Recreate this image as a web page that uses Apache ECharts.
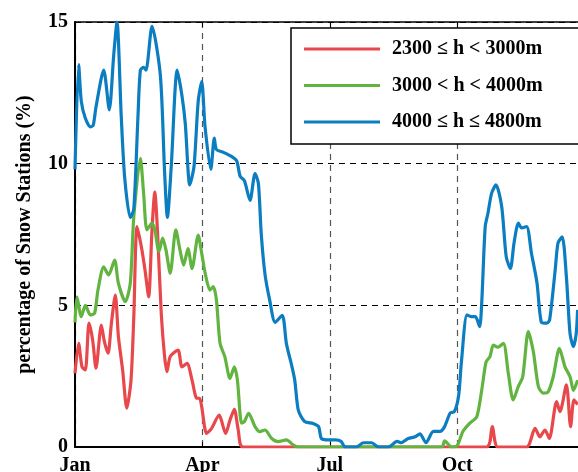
<!DOCTYPE html>
<html>
<head>
<meta charset="utf-8">
<title>Snow stations</title>
<script src="https://cdn.jsdelivr.net/npm/echarts@6/dist/echarts.min.js"></script>
<style>
  html, body { margin: 0; padding: 0; background: #fff; }
  #chart { width: 578px; height: 472px; }
</style>
</head>
<body>
<div id="chart"></div>
<script>
// day of year -> percentage of snow stations
const seriesNames = ['2300 ≤ h < 3000m', '3000 < h < 4000m', '4000 ≤ h ≤ 4800m'];
const monthTicks = { 0: 'Jan', 91: 'Apr', 182: 'Jul', 273: 'Oct' };
const yTicks = [0, 5, 10, 15];

const low = [[0,2.6],[2.6,3.66],[5,2.83],[7.4,2.72],[10,4.37],[12.6,3.78],[15,2.78],[18.8,4.3],[21,3.72],[23.6,3.31],
  [26,4.37],[28.8,5.36],[31,3.9],[34,2.72],[37,1.37],[40,2.36],[42,4.6],[44.3,7.78],[47.4,7.07],[50,6.25],[52.6,5.3],
  [55,7.66],[57,9.0],[59,7.54],[61.6,4.72],[64,3.19],[65.7,2.66],[68,3.19],[73.6,3.42],[76.4,2.83],[80,2.95],[83.6,2.36],
  [87,1.72],[89,1.72],[90.5,1.42],[94,0.48],[97.6,0.66],[103,1.13],[104.5,0.95],[107.6,0.48],[110.7,0.95],[113.8,1.33],
  [116.6,0.6],[120,0],[294,0],[298,0.72],[302,0],[322.6,0],[328.6,0.66],[332,0.36],[335.7,0.6],[338.8,0.3],[344,1.6],
  [346.4,1.25],[351,2.19],[354,0.72],[356.4,1.66],[359,1.5]];

const mid = [[0,4.4],[1.4,5.3],[4.5,4.6],[7.4,5.0],[11,4.66],[14,4.72],[16.4,5.54],[20.5,6.36],[24,6.07],[28.3,6.6],
  [31,5.78],[36,5.13],[39.5,5.78],[42,8.13],[46.7,10.19],[49,8.96],[51.4,7.66],[55,7.9],[57,7.66],[60,6.9],[62.6,7.37],
  [65,6.95],[68,6.13],[72,7.66],[75,6.95],[77.6,6.42],[80.7,7.0],[83.6,6.3],[88,7.48],[90.5,6.84],[93,6.13],[96.4,5.54],
  [98.8,5.66],[101,5.19],[103.6,3.66],[107,3.19],[110.7,2.42],[113.8,2.83],[116,2.36],[119,0.84],[121,0.9],[124,1.19],
  [128.6,0.72],[132,0.54],[135.7,0.6],[140.5,0.3],[145,0.19],[151,0.25],[156,0.07],[159,0],[262,0],[264,0.22],[269,0],
  [273,0.05],[277,0.54],[282,0.84],[287,1.07],[290.5,2.0],[293.6,3.0],[296.4,3.19],[298.8,3.6],[302,3.52],[306,3.66],
  [309.5,2.6],[313,1.66],[316.6,2.13],[319.8,2.48],[323.8,4.07],[327.4,3.36],[331,2.13],[334.5,1.9],[338,1.95],
  [341.6,2.48],[346,3.48],[350,2.83],[353.6,2.48],[356,2.0],[359,2.36]];

const high = [[0,9.8],[2.6,13.5],[4.5,12.2],[7.4,11.6],[11,11.3],[13,11.35],[15,12.0],[20.5,13.3],[24.5,11.9],[27.6,13.8],
  [30,15.0],[33,11.7],[35.5,9.5],[39.5,8.1],[42,8.4],[45,11.7],[46.7,13.3],[49,13.4],[50.7,13.3],[55,14.85],[61,13.1],
  [64,9.7],[66,8.1],[68.8,9.95],[73,13.3],[76.4,12.4],[78.8,11.4],[82,9.25],[85,9.9],[88,12.2],[90.5,12.9],[92.9,11.3],
  [97,9.8],[99.5,10.9],[101,10.5],[106,10.4],[112,10.25],[115.5,10.1],[118,9.55],[121,9.4],[125,8.7],[128.6,9.65],
  [131,9.3],[133,7.55],[135.7,6.1],[139,5.2],[143,4.4],[148,4.65],[151,3.65],[155,2.83],[157,2.35],[159.5,1.3],[164,0.9],
  [170,0.83],[174,0.72],[176,0.3],[181,0.25],[186,0.25],[190,0.2],[193,0],[201,0],[206,0.15],[212,0.15],[216.7,0],
  [224,0],[230,0.2],[233,0.15],[238,0.3],[243,0.36],[246.4,0.46],[250.7,0.15],[256,0.55],[260.7,0.55],[264,0.72],
  [268,1.2],[271,1.25],[274,1.8],[276,3.0],[280,4.66],[283,4.6],[286,4.6],[289,4.25],[290.5,5.08],[293,7.78],[295,8.26],
  [297.6,8.96],[300.7,9.25],[304.8,8.48],[308,6.72],[311,6.3],[313.6,7.2],[316.7,7.9],[319,7.73],[322.6,7.78],[326,6.85],
  [330,5.79],[333,4.42],[337,4.37],[339,4.48],[343,6.25],[345,7.2],[348,7.42],[351,6.0],[353.6,4.0],[356,3.54],[358,4.0],
  [359,4.84]];

const colors = ['#e8484c', '#62b441', '#0b7dc1'];
const font = "'Liberation Serif', 'Times New Roman', serif";

const chart = echarts.init(document.getElementById('chart'));

function makeSeries(name, data, color) {
  return {
    name: name,
    type: 'line',
    data: data,
    showSymbol: false,
    smooth: 0.25,
    color: color,
    lineStyle: { width: 3.2, color: color }
  };
}

const option = {
  animation: false,
  // the plot runs past the right edge of the picture, as in the original
  grid: { left: 75, top: 22, width: 511, height: 425, outerBoundsMode: 'none', containLabel: false },
  legend: {
    orient: 'vertical',
    left: 291,
    top: 28,
    backgroundColor: '#fff',
    borderColor: '#000',
    borderWidth: 1.5,
    padding: [10, 40, 11, 13],
    itemWidth: 76,
    itemHeight: 3,
    itemGap: 14.5,
    icon: 'rect',
    textStyle: { fontFamily: font, fontWeight: 'bold', fontSize: 20, color: '#000', lineHeight: 22, padding: [0, 0, 0, 7] },
    data: seriesNames
  },
  xAxis: [
    {
      type: 'value',
      min: 0,
      max: 365,
      interval: 91,
      axisLine: { lineStyle: { color: '#000', width: 2 } },
      axisTick: { inside: true, length: 5, lineStyle: { color: '#000' } },
      axisLabel: {
        margin: 9,
        fontFamily: font, fontWeight: 'bold', fontSize: 20, color: '#000',
        formatter: v => monthTicks[v] || ''
      },
      splitLine: { show: true, lineStyle: { color: '#555', width: 1.2, type: [6, 5] } }
    },
    {
      type: 'value',
      position: 'top',
      min: 0,
      max: 365,
      interval: 91,
      axisLine: { onZero: false, lineStyle: { color: '#000', width: 1.5 } },
      axisTick: { inside: true, length: 5, lineStyle: { color: '#000' } },
      axisLabel: { show: false },
      splitLine: { show: false }
    }
  ],
  yAxis: {
    type: 'value',
    min: 0,
    max: 15,
    interval: 5,
    name: 'percentage of Snow Stations (%)',
    nameLocation: 'middle',
    nameGap: 40,
    nameTextStyle: { fontFamily: font, fontWeight: 'bold', fontSize: 20, color: '#000' },
    axisLine: { show: true, lineStyle: { color: '#000', width: 2 } },
    axisTick: { show: true, inside: true, length: 5, lineStyle: { color: '#000' } },
    axisLabel: {
      margin: 7,
      fontFamily: font, fontWeight: 'bold', fontSize: 20, color: '#000',
      formatter: v => (yTicks.indexOf(v) >= 0 ? String(v) : '')
    },
    splitLine: { show: true, lineStyle: { color: '#000', width: 1, type: [6, 5] } }
  },
  series: [
    makeSeries(seriesNames[0], low, colors[0]),
    makeSeries(seriesNames[1], mid, colors[1]),
    makeSeries(seriesNames[2], high, colors[2])
  ]
};

chart.setOption(option);
</script>
</body>
</html>
